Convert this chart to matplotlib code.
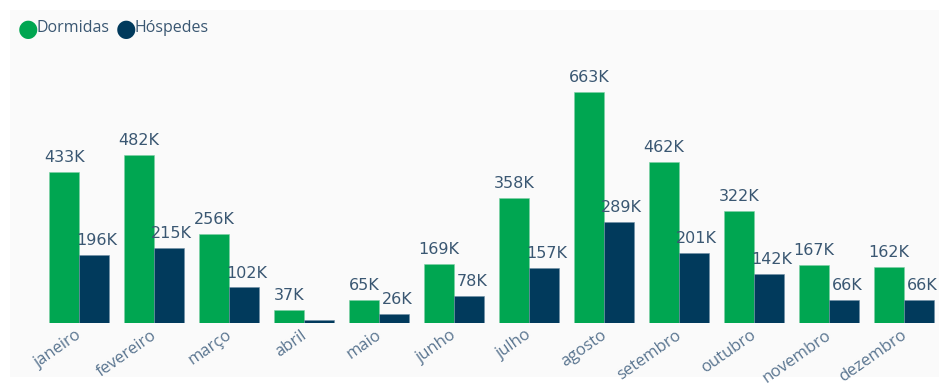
import matplotlib
matplotlib.use("Agg")
import matplotlib.pyplot as plt
from matplotlib.patches import Rectangle
import numpy as np

months = ["janeiro", "fevereiro", "março", "abril", "maio", "junho", "julho",
          "agosto", "setembro", "outubro", "novembro", "dezembro"]
dormidas = [433, 482, 256, 37, 65, 169, 358, 663, 462, 322, 167, 162]
hospedes = [196, 215, 102, 9, 26, 78, 157, 289, 201, 142, 66, 66]
dormidas_labels = ["433K", "482K", "256K", "37K", "65K", "169K", "358K", "663K", "462K", "322K", "167K", "162K"]
hospedes_labels = ["196K", "215K", "102K", "", "26K", "78K", "157K", "289K", "201K", "142K", "66K", "66K"]

GREEN = "#00A651"
NAVY = "#013A5C"
TXT = "#3A5772"
TICK = "#5A7590"

W, H = 939, 385
fig = plt.figure(figsize=(W / 100, H / 100), dpi=100, facecolor="white")
fig.patches.append(Rectangle((10 / W, 8 / H), (W - 10) / W, (H - 18) / H,
                             transform=fig.transFigure, facecolor="#FAFAFA",
                             edgecolor="none", zorder=-10))

ax = fig.add_axes([41.5 / W, (H - 323) / H, 900 / W, 283 / H])
ax.set_facecolor("none")
x = np.arange(len(months))
bw = 0.395
ax.bar(x - bw / 2, dormidas, width=bw, color=GREEN, edgecolor="#7fcfa5", linewidth=0.4)
ax.bar(x + bw / 2, hospedes, width=bw, color=NAVY, edgecolor="#6f8fa5", linewidth=0.4)
ax.set_xlim(-0.5, 11.5)
ax.set_ylim(0, 663 * 283 / 231)

for xi, v, lab in zip(x, dormidas, dormidas_labels):
    ax.annotate(lab, (xi - bw / 2, v), xytext=(0, 5), textcoords="offset points",
                ha="center", va="bottom", fontsize=11.5, color=TXT, family="DejaVu Sans")
for xi, v, lab in zip(x, hospedes, hospedes_labels):
    if lab:
        ax.annotate(lab, (xi + bw / 2 + 0.04, v), xytext=(0, 5), textcoords="offset points",
                    ha="center", va="bottom", fontsize=11.5, color=TXT, family="DejaVu Sans")

for s in ax.spines.values():
    s.set_visible(False)
ax.set_yticks([])
ax.set_xticks(x - 0.05)
ax.set_xticklabels(months, rotation=35, ha="right", rotation_mode="anchor",
                   fontsize=12, color=TICK, family="Open Sans")
ax.tick_params(axis="x", length=0, pad=3)

# legend
fig.text(18 / W, 1 - 29 / H, "●", color=GREEN, fontsize=17, va="center", ha="left")
fig.text(37 / W, 1 - 28 / H, "Dormidas", color=TXT, fontsize=11.5, va="center", ha="left",
         family="Open Sans")
fig.text(116 / W, 1 - 29 / H, "●", color=NAVY, fontsize=17, va="center", ha="left")
fig.text(134 / W, 1 - 28 / H, "Hóspedes", color=TXT, fontsize=11.5, va="center", ha="left",
         family="Open Sans")

fig.savefig("out.png", dpi=100, facecolor="white")
